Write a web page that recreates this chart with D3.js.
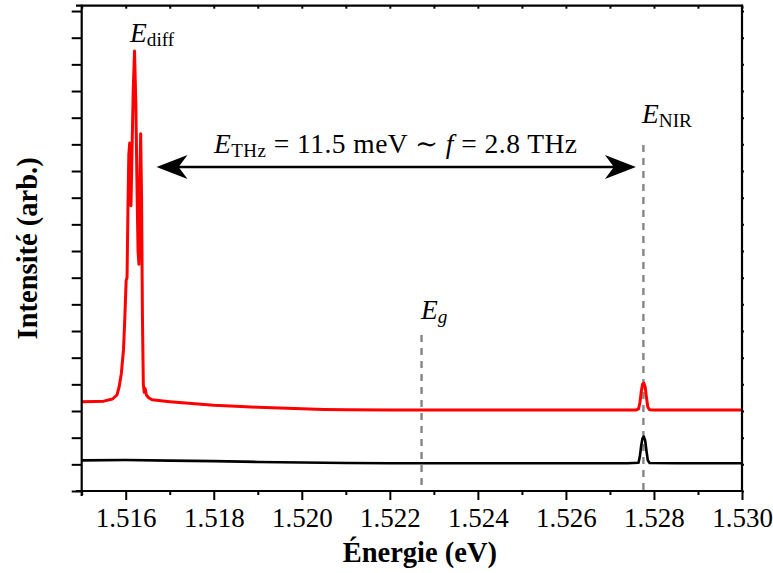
<!DOCTYPE html>
<html><head><meta charset="utf-8">
<script src="https://cdn.jsdelivr.net/npm/d3@7"></script>
<style>
html,body{margin:0;padding:0;background:#fff;}
text{font-family:"Liberation Serif","DejaVu Serif",serif;}
</style></head>
<body><svg id="c" width="773" height="573"></svg>
<script>
// ---- data ----
const redEnergy = [1.5150,1.5153,1.5155,1.5157,1.51580,1.51585,1.51590,1.51595,1.51598,1.51601,1.51603,1.51605,1.51607,1.51609,1.51611,1.51612,1.51614,1.51617,1.51620,1.51623,1.51626,1.51628,1.51630,1.51632,1.51634,1.51636,1.51638,1.51640,1.51642,1.51644,1.51647,1.51652,1.51660,1.5170,1.5175,1.5180,1.5185,1.5190,1.5195,1.5200,1.5205,1.5210,1.5220,1.5230,1.5240,1.5250,1.5260,1.5270,1.52760,1.52765,1.52768,1.52771,1.52774,1.52777,1.52780,1.52783,1.52786,1.52790,1.52800,1.5290,1.5300];
const redIntensity = [3.35,3.36,3.37,3.45,3.6,3.9,4.4,5.3,6.5,7.9,8.0,10.5,12.6,13.05,11.5,10.7,12.5,15.0,16.5,14.5,11.0,9.0,8.5,11.5,13.4,11.0,6.5,4.0,3.7,3.85,3.6,3.5,3.42,3.35,3.28,3.22,3.18,3.14,3.11,3.08,3.06,3.05,3.04,3.04,3.04,3.04,3.04,3.04,3.04,3.08,3.3,3.7,4.0,4.05,3.9,3.5,3.15,3.05,3.04,3.04,3.04];
const blackEnergy = [1.5150,1.5160,1.5170,1.5180,1.5190,1.5200,1.5210,1.5220,1.5240,1.5260,1.5274,1.52765,1.52768,1.52771,1.52774,1.52777,1.52780,1.52783,1.52786,1.52790,1.5285,1.5300];
const blackIntensity = [1.15,1.16,1.14,1.12,1.09,1.07,1.05,1.04,1.04,1.04,1.04,1.06,1.3,1.7,1.98,2.04,1.9,1.5,1.15,1.05,1.04,1.04];
const majorTicks = [1.516,1.518,1.520,1.522,1.524,1.526,1.528,1.530];
const minorTicks = [1.515,1.517,1.519,1.521,1.523,1.525,1.527,1.529];
const yTicks = [0,1,2,3,4,5,6,7,8,9,10,11,12,13,14,15,16,17,18];
const energyGap = 1.52272;
const energyNIR = 1.52776;
const arrowFrom = 1.51670, arrowTo = 1.52759, arrowLevel = 12.15;
const xTitle = "Énergie (eV)";
const yTitle = "Intensité (arb.)";

// ---- layout ----
const L = 81.7, R = 742, T = 5.7, B = 491;
const svg = d3.select("#c");
svg.append("rect").attr("width",773).attr("height",573).attr("fill","#fff");
const x = d3.scaleLinear().domain([1.515,1.530]).range([L,R]);
const y = d3.scaleLinear().domain([0,18.2]).range([B,T]);

// dashed markers
svg.append("line").attr("x1",x(energyGap)).attr("x2",x(energyGap)).attr("y1",335).attr("y2",B)
  .attr("stroke","#858585").attr("stroke-width",2.4).attr("stroke-dasharray","7,6");
svg.append("line").attr("x1",x(energyNIR)).attr("x2",x(energyNIR)).attr("y1",145).attr("y2",B)
  .attr("stroke","#858585").attr("stroke-width",2.4).attr("stroke-dasharray","7,6");

// curves
const line = d3.line().x(d=>x(d[0])).y(d=>y(d[1]));
svg.append("path").datum(blackEnergy.map((e,i)=>[e,blackIntensity[i]]))
  .attr("d",line).attr("fill","none").attr("stroke","#000").attr("stroke-width",2.6).attr("stroke-linejoin","round");
svg.append("path").datum(redEnergy.map((e,i)=>[e,redIntensity[i]]))
  .attr("d",line).attr("fill","none").attr("stroke","#ff0000").attr("stroke-width",3).attr("stroke-linejoin","round");

// axes
const gB = svg.append("g").attr("transform",`translate(0,${B})`)
  .call(d3.axisBottom(x).tickValues(majorTicks).tickSize(9).tickPadding(8).tickFormat(d3.format(".3f")));
svg.append("g").attr("transform",`translate(0,${B})`)
  .call(d3.axisBottom(x).tickValues(minorTicks).tickSize(4).tickFormat(""));
svg.append("g").attr("transform",`translate(0,${T})`)
  .call(d3.axisTop(x).tickValues(majorTicks.concat(minorTicks)).tickSize(-3).tickFormat(""));
svg.append("g").attr("transform",`translate(${L},0)`)
  .call(d3.axisLeft(y).tickValues(yTicks).tickSize(10).tickFormat(""));
svg.append("g").attr("transform",`translate(${R},0)`)
  .call(d3.axisRight(y).tickValues(yTicks).tickSize(2).tickFormat(""));
svg.selectAll(".domain").remove();
svg.selectAll(".tick line").attr("stroke","#000").attr("stroke-width",2);
gB.selectAll("text").attr("font-size",27).attr("fill","#000");

// frame
const frame = svg.append("g").attr("stroke","#000").attr("stroke-width",2.2).attr("fill","none");
frame.append("line").attr("x1",76).attr("x2",R+1).attr("y1",T).attr("y2",T);
frame.append("line").attr("x1",76).attr("x2",R+1).attr("y1",B).attr("y2",B);
frame.append("line").attr("x1",L).attr("x2",L).attr("y1",T-1).attr("y2",B+5);
frame.append("line").attr("x1",R).attr("x2",R).attr("y1",T-1).attr("y2",B+1);

// axis titles
svg.append("text").attr("x",(L+R)/2+8).attr("y",562).attr("text-anchor","middle")
  .attr("font-size",28.5).attr("font-weight","bold").text(xTitle);
svg.append("text").attr("transform",`translate(37,${(T+B)/2}) rotate(-90)`).attr("text-anchor","middle")
  .attr("font-size",28.5).attr("font-weight","bold").text(yTitle);

// arrow
const ay = y(arrowLevel), ax1 = x(arrowFrom), ax2 = x(arrowTo);
svg.append("line").attr("x1",ax1+20).attr("x2",ax2-20).attr("y1",ay).attr("y2",ay)
  .attr("stroke","#000").attr("stroke-width",2.6);
svg.append("path").attr("d",`M${ax1},${ay} L${ax1+31},${ay-12} L${ax1+22},${ay} L${ax1+31},${ay+12} Z`).attr("fill","#000");
svg.append("path").attr("d",`M${ax2},${ay} L${ax2-31},${ay-12} L${ax2-22},${ay} L${ax2-31},${ay+12} Z`).attr("fill","#000");

// annotations
function label(px, py, main, sub, subItalic, size){
  const t = svg.append("text").attr("x",px).attr("y",py).attr("font-size",size);
  t.append("tspan").attr("font-style","italic").text(main);
  t.append("tspan").attr("font-size",size*0.7).attr("dy",4).attr("font-style",subItalic?"italic":"normal").text(sub);
  return t;
}
label(130, 42, "E", "diff", false, 27.5);
label(642, 123, "E", "NIR", false, 27.5);
label(421, 319, "E", "g", true, 27.5);

const at = svg.append("text").attr("x",214).attr("y",153).attr("font-size",27.5)
  .attr("textLength",363).attr("lengthAdjust","spacing");
at.append("tspan").attr("font-style","italic").text("E");
at.append("tspan").attr("font-size",19).attr("dy",4).text("THz");
at.append("tspan").attr("dy",-4).text(" = 11.5 meV \u223C ");
at.append("tspan").attr("font-style","italic").text("f");
at.append("tspan").text(" = 2.8 THz");
</script></body></html>
